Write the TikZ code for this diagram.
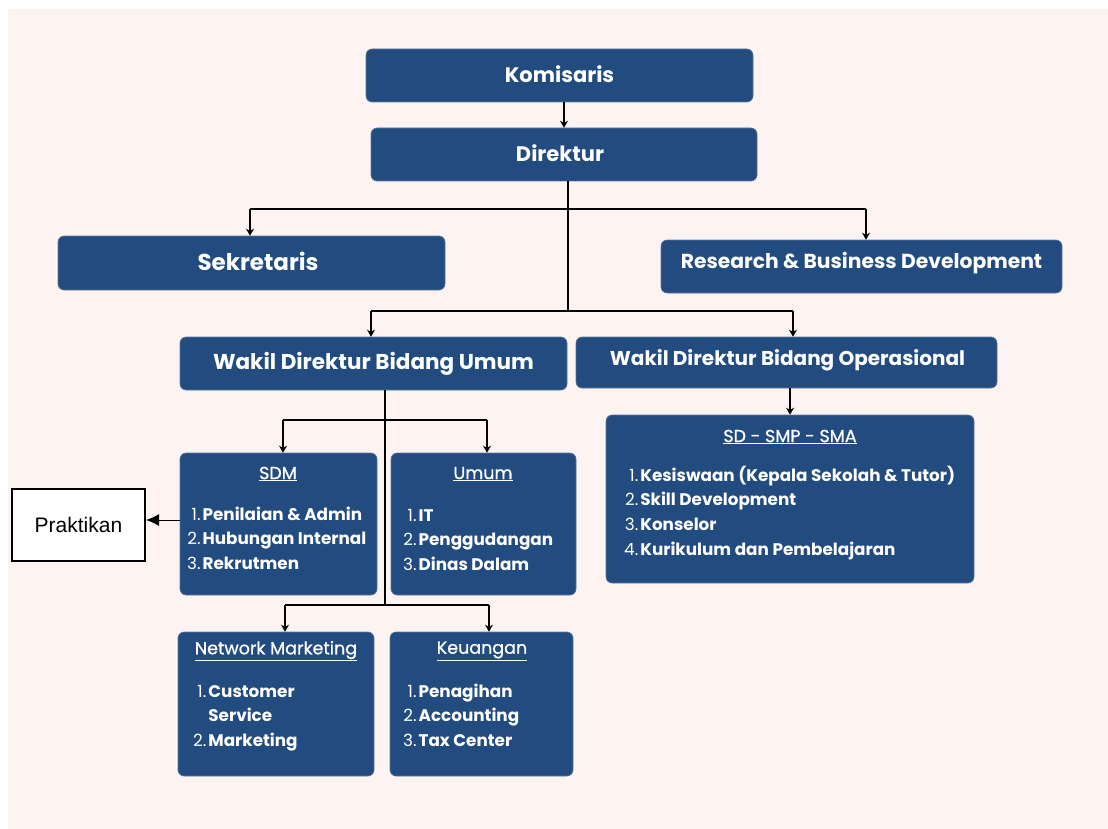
\documentclass[tikz,border=0pt]{standalone}
\usepackage{fontspec}
\setmainfont{Poppins}
\setsansfont{Liberation Sans}
\usetikzlibrary{arrows.meta}
\definecolor{boxblue}{HTML}{224B7F}
\definecolor{bgpink}{HTML}{FDF4F2}
\tikzset{
  box/.style={fill=boxblue, draw=boxblue!75!white, line width=0.6pt, rounded corners=6pt, text=white, inner sep=0pt},
  ttl/.style={font=\bfseries\fontsize{21}{24}\selectfont},
  ln/.style={line width=1.6pt, draw=black},
  arr/.style={ln, -{Stealth[length=7pt,width=8pt]}},
  hdr/.style={text=white, inner sep=0pt, font=\fontsize{17.5}{20}\selectfont\addfontfeature{FakeBold=0.8}},
  lst/.style={text=white, anchor=base west, inner sep=0pt, font=\fontsize{16.8}{24.7}\selectfont},
}
\newcommand{\itm}[2]{#1.&\textbf{#2}\\}
\newenvironment{lsttab}{\begin{tabular}[t]{@{}r@{\hspace{2pt}}l@{}}}{\end{tabular}}
\begin{document}
\begin{tikzpicture}[x=1pt,y=-1pt]
\useasboundingbox (0,0) rectangle (1108,829);
\fill[bgpink] (8,9) rectangle (1108,829);

% top boxes
\node[box, ttl, minimum width=387pt, minimum height=53pt] (kom) at (559.5,75.5) {};
\node[text=white, ttl, inner sep=0pt] (tkom) at (559.5,74) {Komisaris};
\node[box, ttl, minimum width=386pt, minimum height=53pt] (dir) at (564,154.5) {};
\node[text=white, ttl, inner sep=0pt] (tdir) at (560,153.5) {Direktur};
\node[box, minimum width=387pt, minimum height=54pt] (sek) at (251.5,263) {};
\node[text=white, font=\bfseries\fontsize{23}{26}\selectfont, inner sep=0pt] (tsek) at (258,261) {Sekretaris};
\node[box, minimum width=401pt, minimum height=53pt] (rbd) at (861.5,266.5) {};
\node[text=white, font=\bfseries\fontsize{20.3}{24}\selectfont, inner sep=0pt] (trbd) at (861.5,263.5) {Research \& Business Development};
\node[box, ttl, font=\bfseries\fontsize{21.5}{24}\selectfont, minimum width=387pt, minimum height=53pt] (wu) at (373.5,363.5) {Wakil Direktur Bidang Umum};
\node[box, minimum width=421pt, minimum height=51pt] (wo) at (786.5,362.5) {};
\node[text=white, font=\bfseries\fontsize{20}{24}\selectfont, inner sep=0pt] (two) at (787.5,360.5) {Wakil Direktur Bidang Operasional};

% department boxes
\node[box, minimum width=197pt, minimum height=142pt] (sdm) at (278.5,524) {};
\node[box, minimum width=185pt, minimum height=142pt] (umum) at (483.5,524) {};
\node[box, minimum width=196pt, minimum height=144pt] (nm) at (276,704) {};
\node[box, minimum width=183pt, minimum height=144pt] (keu) at (481.5,704) {};
\node[box, minimum width=368pt, minimum height=168pt] (sd) at (790,499) {};

% headers
\node[hdr] (hsdm) at (278,474) {\underline{SDM}};
\node[hdr] (humum) at (483,474) {\underline{Umum}};
\node[hdr] (hnm) at (276,651) {\underline{Network Marketing}};
\node[hdr] (hkeu) at (482,651) {\underline{Keuangan}};
\node[hdr] (hsd) at (790,437) {\underline{SD - SMP - SMA}};

% lists
\node[lst] (lsdm) at (187,520) {\begin{lsttab}\itm{1}{Penilaian \& Admin}\itm{2}{Hubungan Internal}\itm{3}{Rekrutmen}\end{lsttab}};
\node[lst] (lumum) at (403,521) {\begin{lsttab}\itm{1}{IT}\itm{2}{Penggudangan}\itm{3}{Dinas Dalam}\end{lsttab}};
\node[lst] (lnm) at (193,697) {\begin{lsttab}\itm{1}{Customer}&\textbf{Service}\\\itm{2}{Marketing}\end{lsttab}};
\node[lst] (lkeu) at (403,697) {\begin{lsttab}\itm{1}{Penagihan}\itm{2}{Accounting}\itm{3}{Tax Center}\end{lsttab}};
\node[lst] (lsd) at (624,481) {\begin{lsttab}\itm{1}{Kesiswaan (Kepala Sekolah \& Tutor)}\itm{2}{Skill Development}\itm{3}{Konselor}\itm{4}{Kurikulum dan Pembelajaran}\end{lsttab}};

% Praktikan
\node[draw=black, line width=2pt, fill=white, minimum width=133pt, minimum height=72pt, inner sep=0pt, font=\sffamily\fontsize{21}{24}\selectfont] (prak) at (78.5,525) {Praktikan};

% junction coordinates
\coordinate (j1) at (568,209);
\coordinate (j2) at (568,311);
\coordinate (j3) at (385,420);
\coordinate (j4) at (385,605);
\coordinate (a1) at (250,209);
\coordinate (a2) at (866,209);
\coordinate (a3) at (371,311);
\coordinate (a4) at (793,311);
\coordinate (a5) at (283,420);
\coordinate (a6) at (487,420);
\coordinate (a7) at (285,605);
\coordinate (a8) at (489,605);
\coordinate (pj) at (180,520);

% connectors
\draw[arr] (dir.north |- kom.south) -- (dir.north);
\draw[ln] (dir.south -| j1) -- (j2);
\draw[ln] (a1) -- (a2);
\draw[arr] (a1) -- (a1 |- sek.north);
\draw[arr] (a2) -- (a2 |- rbd.north);
\draw[ln] (a3) -- (a4);
\draw[arr] (a3) -- (a3 |- wu.north);
\draw[arr] (a4) -- (a4 |- wo.north);
\draw[arr] (sd.north |- wo.south) -- (sd.north);
\draw[ln] (wu.south -| j3) -- (j4);
\draw[ln] (a5) -- (a6);
\draw[arr] (a5) -- (a5 |- sdm.north);
\draw[arr] (a6) -- (a6 |- umum.north);
\draw[ln] (a7) -- (a8);
\draw[arr] (a7) -- (a7 |- nm.north);
\draw[arr] (a8) -- (a8 |- keu.north);
\draw[line width=1pt, -{Latex[length=13pt,width=12pt]}] (pj) -- (prak.east |- pj);
\end{tikzpicture}
\end{document}
